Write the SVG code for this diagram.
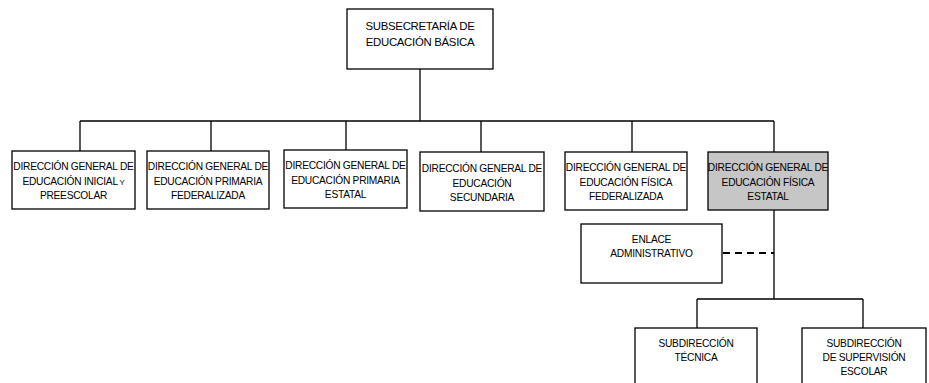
<svg xmlns="http://www.w3.org/2000/svg" width="929" height="383" viewBox="0 0 929 383">
<style>
.box{fill:#fff;stroke:#000;stroke-width:1.3}
.gray{fill:#c6c6c6}
.ln{fill:none;stroke:#000;stroke-width:1.3}
.dash{fill:none;stroke:#000;stroke-width:2;stroke-dasharray:7,5}
text{font-family:"Liberation Sans",Arial,sans-serif;font-size:10.2px;letter-spacing:-0.25px;text-anchor:middle;fill:#000}
.big{font-size:11.4px;letter-spacing:-0.3px}
</style>
<rect width="929" height="383" fill="#fff"/>
<g id="connectors">
<path class="ln" d="M420,69 V121 M80,121 H774 M80,121 V151 M211,121 V151 M346,121 V150 M481,121 V152 M632,121 V152 M774,121 V152"/>
<path class="ln" d="M774,210 V299 M697,299 H863 M697,299 V328 M863,299 V328"/>
<path class="dash" d="M723,253 H774"/>
</g>
<g id="subsecretaria">
<rect class="box" x="347" y="9" width="146" height="60"/>
<text class="big" x="420" y="30">SUBSECRETARÍA DE</text>
<text class="big" x="420" y="46">EDUCACIÓN BÁSICA</text>
</g>
<g id="dg-inicial">
<rect class="box" x="12" y="151" width="123" height="58"/>
<text x="73.5" y="170">DIRECCIÓN GENERAL DE</text>
<text x="73.5" y="185">EDUCACIÓN INICIAL<tspan font-size="7.8"> Y</tspan></text>
<text x="73.5" y="199">PREESCOLAR</text>
</g>
<g id="dg-primaria-fed">
<rect class="box" x="147" y="151" width="122" height="58"/>
<text x="208" y="170">DIRECCIÓN GENERAL DE</text>
<text x="208" y="185">EDUCACIÓN PRIMARIA</text>
<text x="208" y="199">FEDERALIZADA</text>
</g>
<g id="dg-primaria-est">
<rect class="box" x="284" y="150" width="123" height="58"/>
<text x="345.5" y="169">DIRECCIÓN GENERAL DE</text>
<text x="345.5" y="184">EDUCACIÓN PRIMARIA</text>
<text x="345.5" y="198">ESTATAL</text>
</g>
<g id="dg-secundaria">
<rect class="box" x="420" y="152" width="124" height="59"/>
<text x="482" y="172">DIRECCIÓN GENERAL DE</text>
<text x="482" y="187">EDUCACIÓN</text>
<text x="482" y="201">SECUNDARIA</text>
</g>
<g id="dg-fisica-fed">
<rect class="box" x="565" y="152" width="122" height="58"/>
<text x="626" y="171">DIRECCIÓN GENERAL DE</text>
<text x="626" y="186">EDUCACIÓN FÍSICA</text>
<text x="626" y="200">FEDERALIZADA</text>
</g>
<g id="dg-fisica-est">
<rect class="box gray" x="708" y="152" width="120" height="58"/>
<text x="768" y="171">DIRECCIÓN GENERAL DE</text>
<text x="768" y="186">EDUCACIÓN FÍSICA</text>
<text x="768" y="200">ESTATAL</text>
</g>
<g id="enlace">
<rect class="box" x="581" y="224" width="141" height="59"/>
<text x="651.5" y="243">ENLACE</text>
<text x="651.5" y="257">ADMINISTRATIVO</text>
</g>
<g id="sub-tecnica">
<rect class="box" x="635" y="328" width="122" height="60"/>
<text x="696" y="347">SUBDIRECCIÓN</text>
<text x="696" y="361">TÉCNICA</text>
</g>
<g id="sub-supervision">
<rect class="box" x="802" y="328" width="124" height="60"/>
<text x="864" y="347">SUBDIRECCIÓN</text>
<text x="864" y="361">DE SUPERVISIÓN</text>
<text x="864" y="375">ESCOLAR</text>
</g>
</svg>
